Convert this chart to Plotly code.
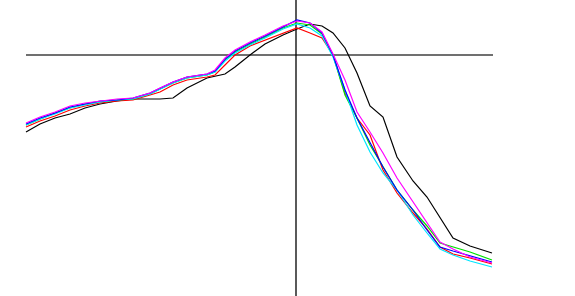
import plotly.graph_objects as go

# common sample positions along the horizontal axis
x_pos = [26, 40, 55, 70, 85, 100, 117, 133, 150, 160, 173, 187, 207, 215, 225, 235, 250,
         265, 283, 297, 310, 322, 333, 345, 357, 370, 383, 397, 413, 427, 440, 453, 470, 492]

s_black = [132, 124, 118, 114, 108, 104, 101, 99, 99, 99, 98, 88, 78, 76, 74, 67, 55,
           44, 35, 29, 24, 26, 33, 48, 73, 106, 117, 157, 181, 197, 217, 238, 246, 253]
s_red = [127, 121, 116, 110, 106, 103, 101, 100, 95, 92, 85, 80, 77, 75, 65, 55, 46,
         40, 33, 28, 33, 38, 55, 93, 118, 135, 170, 193, 213, 229, 247, 254, 258, 264]
s_green = [125, 119, 113, 108, 104, 102, 100, 99, 94, 89, 83, 78, 75, 72, 60, 52, 44,
           37, 28, 23, 25, 34, 55, 95, 118, 145, 167, 190, 210, 226, 243, 247, 252, 260]
s_blue = [124, 118, 113, 107, 104, 101, 100, 98, 93, 88, 82, 77, 74, 71, 59, 51, 43,
          36, 27, 20, 23, 33, 55, 90, 118, 143, 167, 190, 210, 230, 247, 251, 256, 262]
s_cyan = [125, 119, 114, 108, 105, 102, 100, 99, 94, 89, 83, 78, 75, 72, 61, 53, 45,
          38, 29, 24, 28, 36, 57, 90, 125, 152, 173, 190, 215, 233, 249, 255, 261, 267]
s_magenta = [123, 117, 112, 106, 103, 101, 99, 98, 93, 88, 82, 77, 74, 70, 58, 50, 42,
             35, 26, 21, 23, 32, 54, 80, 112, 132, 153, 178, 202, 222, 242, 249, 257, 263]

cross_x = 296
cross_y = 55
h_span = [26, 493]
v_span = [0, 296]

fig = go.Figure()

fig.add_trace(go.Scatter(x=h_span, y=[cross_y, cross_y], mode="lines",
                         line=dict(color="#404040", width=1.3), hoverinfo="skip"))
fig.add_trace(go.Scatter(x=[cross_x, cross_x], y=v_span, mode="lines",
                         line=dict(color="#000000", width=1.3), hoverinfo="skip"))

series = [
    (s_black, "#000000"),
    (s_red, "#ff0000"),
    (s_green, "#00e000"),
    (s_cyan, "#00e5ff"),
    (s_blue, "#0000ff"),
    (s_magenta, "#ff00ff"),
]
for vals, col in series:
    fig.add_trace(go.Scatter(x=x_pos, y=vals, mode="lines",
                             line=dict(color=col, width=1.2), hoverinfo="skip"))

fig.update_layout(
    width=575, height=296,
    margin=dict(l=0, r=0, t=0, b=0),
    paper_bgcolor="white", plot_bgcolor="white",
    showlegend=False,
    xaxis=dict(range=[0, 575], visible=False, fixedrange=True),
    yaxis=dict(range=[296, 0], visible=False, fixedrange=True),
)

fig.write_html("out.html", config={"displayModeBar": False})
